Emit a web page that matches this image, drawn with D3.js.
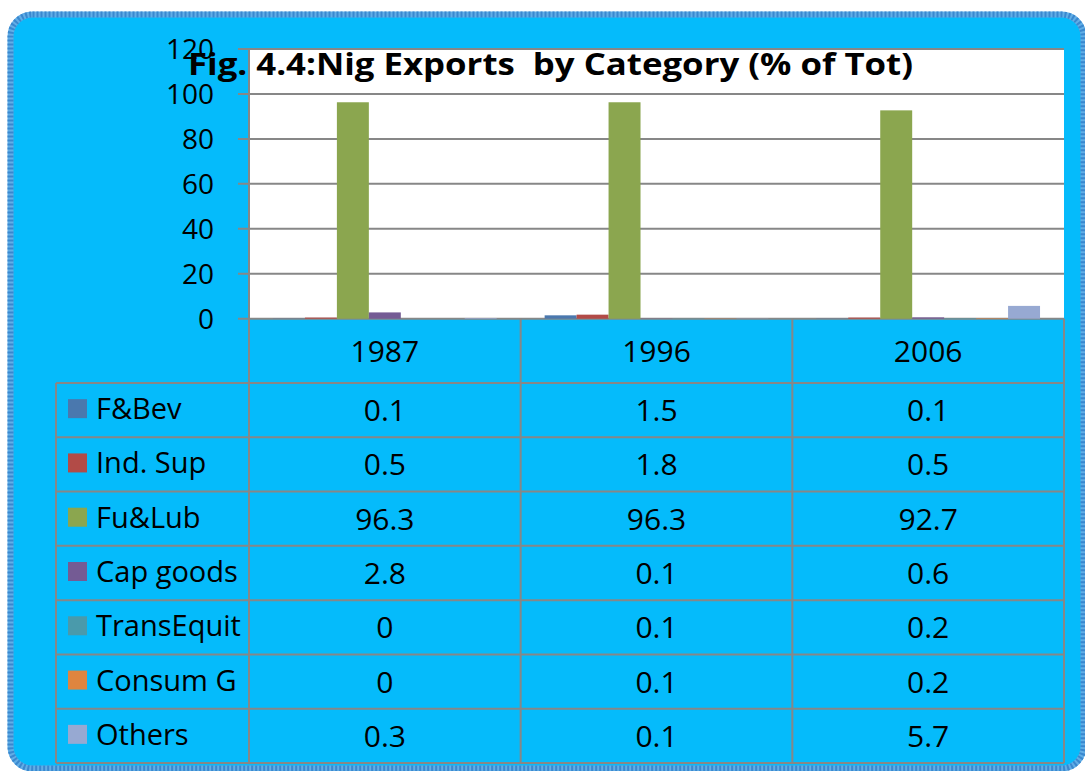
<!DOCTYPE html>
<html>
<head>
<meta charset="utf-8">
<script src="https://cdn.jsdelivr.net/npm/d3@7"></script>
<style>
  html, body { margin: 0; padding: 0; background: #fff; }
  svg { display: block; font-family: "Open Sans", "Noto Sans", sans-serif; }
</style>
</head>
<body>
<svg width="1085" height="771"></svg>
<script>
// data
let years = ["1987", "1996", "2006"];
let seriesNames = ["F&Bev", "Ind. Sup", "Fu&Lub", "Cap goods", "TransEquit", "Consum G", "Others"];
let fBev = [0.1, 1.5, 0.1];
let indSup = [0.5, 1.8, 0.5];
let fuLub = [96.3, 96.3, 92.7];
let capGoods = [2.8, 0.1, 0.6];
let transEquit = [0, 0.1, 0.2];
let consumG = [0, 0.1, 0.2];
let others = [0.3, 0.1, 5.7];
let yTicks = [0, 20, 40, 60, 80, 100, 120];
let title = "Fig. 4.4:Nig Exports  by Category (% of Tot)";

let seriesValues = [fBev, indSup, fuLub, capGoods, transEquit, consumG, others];
let colors = ["#4a78ae", "#b24b47", "#8ba64f", "#745b94", "#4a9aab", "#df853f", "#97a9d2"];

let svg = d3.select("svg");

// blue rounded background
svg.append("rect")
  .attr("x", 10.5).attr("y", 14.5)
  .attr("width", 1073).attr("height", 754)
  .attr("rx", 22)
  .attr("fill", "#05bbfb")
  .attr("stroke", "#62aee6")
  .attr("stroke-width", 6);
svg.append("rect")
  .attr("x", 10.5).attr("y", 14.5)
  .attr("width", 1073).attr("height", 754)
  .attr("rx", 22)
  .attr("fill", "none")
  .attr("stroke", "#3a88cf")
  .attr("stroke-width", 6)
  .attr("stroke-dasharray", "2 2");

// geometry
let plotLeft = 249, plotRight = 1064, plotTop = 49, plotBottom = 318.7;
let tableLeft = 56, tableBottom = 763, headerBottom = 383;

let x0 = d3.scaleBand().domain(years).range([plotLeft, plotRight]);
let x1 = d3.scaleBand().domain(seriesNames).range([0, x0.bandwidth()]).paddingOuter(0.75);
let y = d3.scaleLinear().domain([0, 120]).range([plotBottom, plotTop]);
let rowY = d3.scaleBand().domain(seriesNames).range([headerBottom, tableBottom]);

// white plot area
svg.append("rect")
  .attr("x", plotLeft).attr("y", plotTop)
  .attr("width", plotRight - plotLeft).attr("height", plotBottom - plotTop)
  .attr("fill", "#fff");

let lineColor = "#878787";

// gridlines + tick marks
svg.append("g").selectAll("line")
  .data(yTicks)
  .join("line")
    .attr("x1", plotLeft - 11).attr("x2", plotRight)
    .attr("y1", d => y(d)).attr("y2", d => y(d))
    .attr("stroke", lineColor).attr("stroke-width", 2);

// y labels
svg.append("g").selectAll("text")
  .data(yTicks)
  .join("text")
    .attr("x", 214).attr("y", d => y(d))
    .attr("dy", "0.36em")
    .attr("text-anchor", "end")
    .attr("font-size", 28)
    .text(d => d);

// bars
let bars = svg.append("g");
years.forEach((yr, i) => {
  bars.append("g").selectAll("rect")
    .data(seriesNames.map((s, j) => ({ s: s, v: seriesValues[j][i], c: colors[j] })))
    .join("rect")
      .attr("x", d => x0(yr) + x1(d.s))
      .attr("width", x1.bandwidth())
      .attr("y", d => y(d.v))
      .attr("height", d => y(0) - y(d.v))
      .attr("fill", d => d.c);
});

// title (overlaps the 120 label like the original)
svg.append("text")
  .attr("x", 188).attr("y", 75)
  .attr("font-size", 31)
  .attr("font-weight", "bold")
  .attr("textLength", 725)
  .attr("lengthAdjust", "spacingAndGlyphs")
  .style("white-space", "pre")
  .text(title);

// data table lines
let tbl = svg.append("g").attr("stroke", lineColor).attr("stroke-width", 2);
// vertical
tbl.append("line").attr("x1", tableLeft).attr("x2", tableLeft).attr("y1", headerBottom).attr("y2", tableBottom);
tbl.append("line").attr("x1", plotLeft).attr("x2", plotLeft).attr("y1", plotTop).attr("y2", tableBottom);
years.forEach(yr => {
  let xe = x0(yr) + x0.bandwidth();
  tbl.append("line").attr("x1", xe).attr("x2", xe).attr("y1", plotBottom).attr("y2", tableBottom);
});
// horizontal
seriesNames.forEach(s => {
  let yy = rowY(s);
  tbl.append("line").attr("x1", tableLeft).attr("x2", plotRight).attr("y1", yy).attr("y2", yy);
});
tbl.append("line").attr("x1", tableLeft).attr("x2", plotRight).attr("y1", tableBottom).attr("y2", tableBottom);

// header row (years)
svg.append("g").selectAll("text")
  .data(years)
  .join("text")
    .attr("x", d => x0(d) + x0.bandwidth() / 2)
    .attr("y", (plotBottom + headerBottom) / 2 + 11)
    .attr("text-anchor", "middle")
    .attr("font-size", 30)
    .text(d => d);

// legend keys + names
let rows = svg.append("g").selectAll("g")
  .data(seriesNames)
  .join("g")
    .attr("transform", d => `translate(0,${rowY(d) + rowY.bandwidth() / 2})`);

rows.append("rect")
  .attr("x", 68).attr("y", -11)
  .attr("width", 19).attr("height", 19)
  .attr("fill", (d, i) => colors[i]);

rows.append("text")
  .attr("x", 96).attr("y", 9)
  .attr("font-size", 29)
  .text(d => d);

// values
rows.each(function(s, j) {
  d3.select(this).selectAll("text.val")
    .data(seriesValues[j])
    .join("text")
      .attr("class", "val")
      .attr("x", (d, i) => x0(years[i]) + x0.bandwidth() / 2)
      .attr("y", 11)
      .attr("text-anchor", "middle")
      .attr("font-size", 30)
      .text(d => d);
});
</script>
</body>
</html>
